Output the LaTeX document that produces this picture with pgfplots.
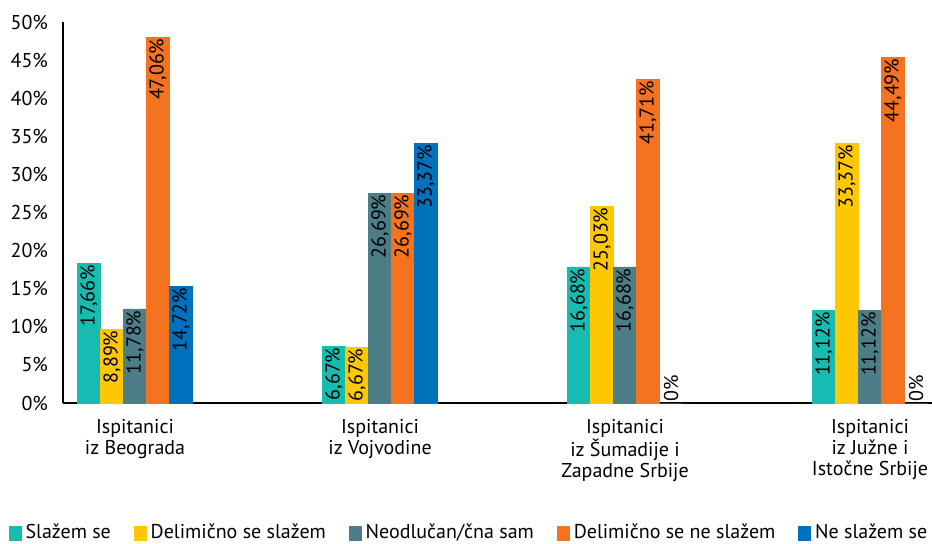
\documentclass[border=0pt]{standalone}
\usepackage{pgfplots}
\pgfplotsset{compat=1.18}
\usepackage{fontspec}
\setmainfont{PT Sans}
\definecolor{cTeal}{HTML}{17BBB0}
\definecolor{cYellow}{HTML}{FFC700}
\definecolor{cGrey}{HTML}{4D7E88}
\definecolor{cOrange}{HTML}{F47321}
\definecolor{cBlue}{HTML}{0071BC}
\newcommand{\cf}{\fontsize{10}{10.6}\selectfont}
\pgfplotsset{
  mylegend/.style={legend image code/.code={\fill[##1] (0pt,-3.5pt) rectangle (6pt,3.5pt);}},
  mybar/.style={fill=#1, draw=#1, line width=0.4pt, mylegend},
}
\begin{document}
\begin{tikzpicture}
\useasboundingbox (-31.5pt,-70pt) rectangle (434.5pt,201.5pt);
\begin{axis}[
  scale only axis,
  width=434.5pt, height=190.5pt,
  ybar, bar width=11.5pt,
  xmin=-0.294, xmax=3.253,
  ymin=0, ymax=50,
  axis lines*=left,
  axis line style={line width=0.6pt, black},
  major tick length=0pt,
  xtick={0,1,2,3},
  xticklabels={{Ispitanici\\iz Beograda},{Ispitanici\\iz Vojvodine},{Ispitanici\\iz Šumadije i\\Zapadne Srbije},{Ispitanici\\iz Južne i\\Istočne Srbije}},
  xticklabel style={align=center, font=\cf, anchor=north, yshift=-4.5pt},
  ytick={0,5,...,50},
  yticklabel={\pgfmathparse{int(\tick)}\pgfmathresult\%},
  yticklabel style={font=\cf, xshift=-4pt},
  point meta=explicit symbolic,
  nodes near coords,
  nodes near coords style={rotate=90, anchor=east, font=\cf, inner sep=0.6pt, black},
  legend columns=5,
  legend style={draw=none, fill=none, at={(0.4684,-0.3412)}, anchor=center, font=\cf,
    /tikz/every even column/.append style={column sep=9.5pt},
    /tikz/every odd column/.append style={column sep=0pt}},
]
\addplot[mybar=cTeal, bar shift=-23pt] coordinates {(0,18.33)[17,66\%] (1,7.48)[6,67\%] (2,17.85)[16,68\%] (3,12.1)[11,12\%]};
\addplot[mybar=cYellow, bar shift=-11.5pt] coordinates {(0,9.71)[8,89\%] (1,7.35)[6,67\%] (2,25.85)[25,03\%] (3,34.1)[33,37\%]};
\addplot[mybar=cGrey, bar shift=0pt] coordinates {(0,12.34)[11,78\%] (1,27.56)[26,69\%] (2,17.85)[16,68\%] (3,12.1)[11,12\%]};
\addplot[mybar=cOrange, bar shift=11.5pt] coordinates {(0,48.03)[47,06\%] (1,27.56)[26,69\%] (2,42.5)[41,71\%] (3,45.4)[44,49\%]};
\addplot[mybar=cBlue, bar shift=23pt] coordinates {(0,15.35)[14,72\%] (1,34.1)[33,37\%]};
\addplot[mybar=cBlue, bar shift=23pt, forget plot, nodes near coords style={anchor=west}] coordinates {(2,0)[0\%] (3,0)[0\%]};
\legend{Slažem se, Delimično se slažem, Neodlučan/čna sam, Delimično se ne slažem, Ne slažem se}
\end{axis}
\end{tikzpicture}
\end{document}
